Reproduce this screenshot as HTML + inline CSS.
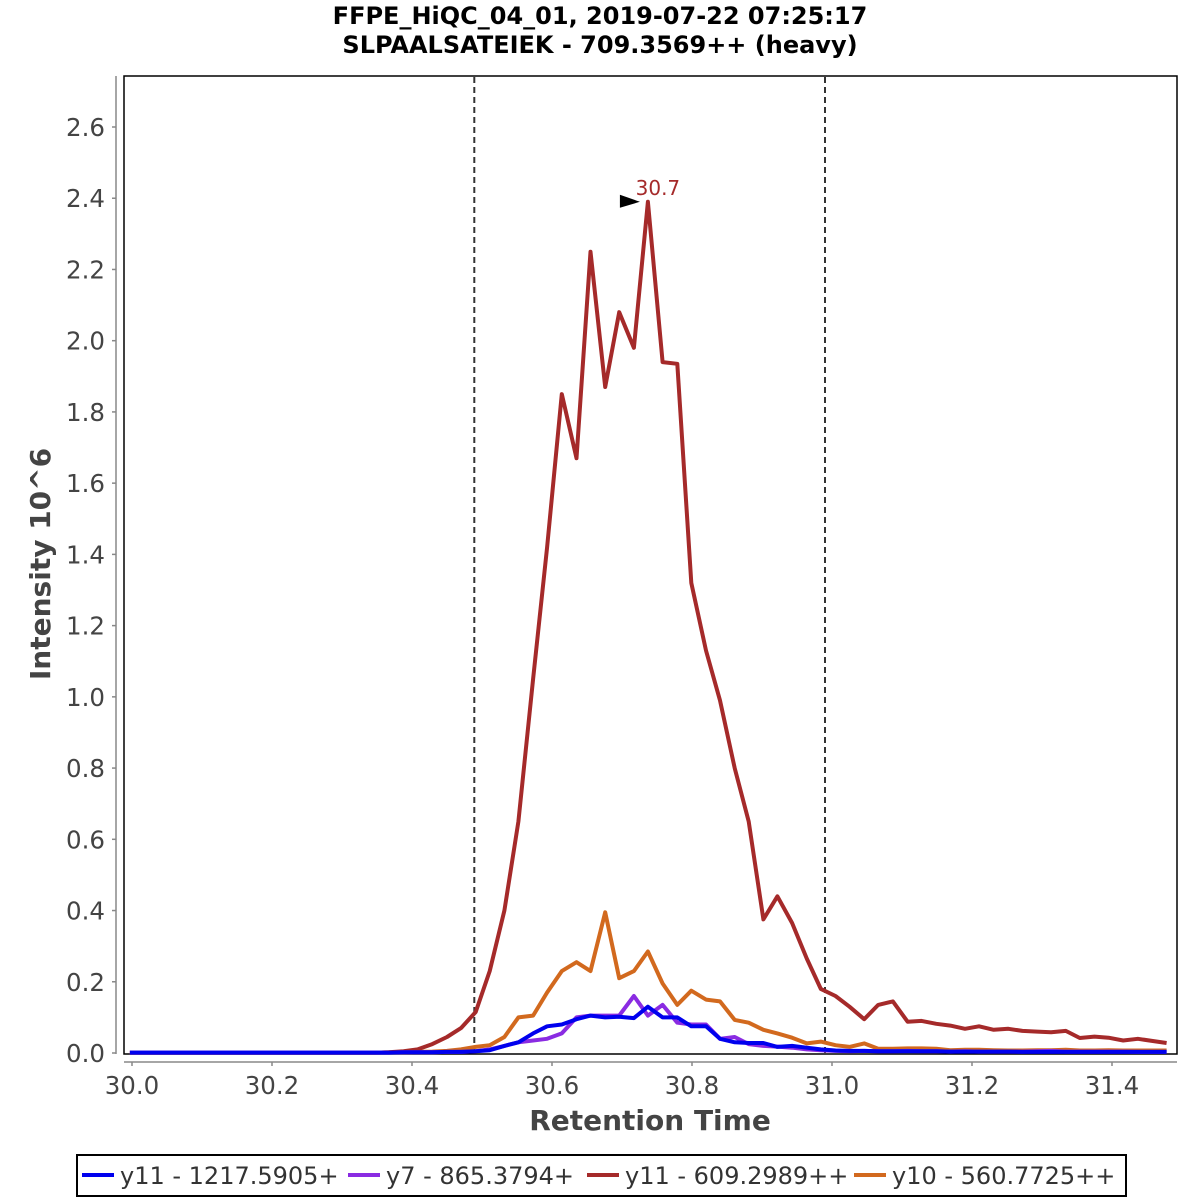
<!DOCTYPE html>
<html><head><meta charset="utf-8"><style>
html,body{margin:0;padding:0;background:#fff;}
svg{display:block;font-family:"Liberation Sans","DejaVu Sans",sans-serif;}
</style></head><body>
<svg id="chart" width="1200" height="1200" viewBox="0 0 1200 1200">
<text x="600" y="24" text-anchor="middle" font-size="24" font-weight="bold" font-family="DejaVu Sans, sans-serif">FFPE_HiQC_04_01, 2019-07-22 07:25:17</text>
<text x="600" y="53" text-anchor="middle" font-size="24" font-weight="bold" font-family="DejaVu Sans, sans-serif">SLPAALSATEIEK - 709.3569++ (heavy)</text>
<g id="plot"></g>
</svg>
<script>
const times = [29.997,30.018,30.038,30.059,30.079,30.1,30.12,30.141,30.162,30.182,30.203,30.223,30.244,30.264,30.285,30.306,30.326,30.347,30.367,30.388,30.408,30.429,30.45,30.47,30.491,30.511,30.532,30.552,30.573,30.593,30.614,30.635,30.655,30.676,30.696,30.717,30.737,30.758,30.779,30.799,30.82,30.84,30.861,30.881,30.902,30.922,30.943,30.964,30.984,31.005,31.025,31.046,31.066,31.087,31.108,31.128,31.149,31.169,31.19,31.21,31.231,31.252,31.272,31.293,31.313,31.334,31.354,31.375,31.395,31.416,31.437,31.457,31.478];
const seriesNames = ["y11 - 1217.5905+","y7 - 865.3794+","y11 - 609.2989++","y10 - 560.7725++"];
const seriesColors = ["#0000ee","#8a2be2","#a52a2a","#d2691e"];
const blueVals = [0.001,0.001,0.001,0.001,0.001,0.001,0.001,0.001,0.001,0.001,0.001,0.001,0.001,0.001,0.001,0.001,0.001,0.001,0.001,0.002,0.002,0.002,0.003,0.003,0.005,0.008,0.02,0.03,0.055,0.075,0.08,0.095,0.105,0.1,0.102,0.098,0.13,0.1,0.1,0.075,0.075,0.04,0.03,0.028,0.028,0.017,0.02,0.015,0.01,0.007,0.006,0.006,0.005,0.005,0.005,0.005,0.005,0.004,0.004,0.004,0.004,0.004,0.003,0.003,0.003,0.003,0.003,0.003,0.003,0.003,0.003,0.003,0.003];
const purpleVals = [0.001,0.001,0.001,0.001,0.001,0.001,0.001,0.001,0.001,0.001,0.001,0.001,0.001,0.001,0.001,0.001,0.001,0.001,0.001,0.002,0.002,0.002,0.003,0.003,0.005,0.01,0.02,0.03,0.035,0.04,0.055,0.1,0.105,0.105,0.105,0.16,0.105,0.135,0.085,0.08,0.08,0.04,0.045,0.025,0.02,0.018,0.015,0.01,0.008,0.006,0.005,0.006,0.005,0.005,0.006,0.005,0.005,0.004,0.005,0.004,0.004,0.004,0.004,0.005,0.006,0.004,0.004,0.004,0.004,0.004,0.003,0.003,0.003];
const redVals = [0.001,0.001,0.001,0.001,0.001,0.001,0.001,0.001,0.001,0.001,0.001,0.001,0.001,0.001,0.001,0.001,0.001,0.001,0.002,0.005,0.01,0.025,0.045,0.07,0.115,0.23,0.4,0.65,1.05,1.42,1.85,1.67,2.25,1.87,2.08,1.98,2.39,1.94,1.935,1.32,1.13,0.99,0.8,0.65,0.375,0.44,0.365,0.265,0.18,0.16,0.13,0.095,0.135,0.145,0.088,0.09,0.082,0.077,0.068,0.075,0.065,0.068,0.062,0.06,0.058,0.062,0.042,0.046,0.043,0.035,0.04,0.034,0.028];
const orangeVals = [0.001,0.001,0.001,0.001,0.001,0.001,0.001,0.001,0.001,0.001,0.001,0.001,0.001,0.001,0.001,0.001,0.001,0.001,0.002,0.002,0.003,0.004,0.006,0.01,0.017,0.022,0.045,0.1,0.105,0.17,0.23,0.255,0.23,0.395,0.21,0.23,0.285,0.195,0.135,0.175,0.15,0.145,0.093,0.085,0.065,0.055,0.043,0.027,0.032,0.022,0.017,0.027,0.012,0.012,0.013,0.013,0.012,0.008,0.009,0.009,0.008,0.007,0.007,0.008,0.008,0.009,0.007,0.007,0.008,0.007,0.007,0.007,0.007];
const yTicks = [0.0,0.2,0.4,0.6,0.8,1.0,1.2,1.4,1.6,1.8,2.0,2.2,2.4,2.6];
const xTicks = [30.0,30.2,30.4,30.6,30.8,31.0,31.2,31.4];
const boundaries = [30.489,30.99];
const peakTime = 30.737, peakVal = 2.39, peakLabel = "30.7";

const NS = "http://www.w3.org/2000/svg";
const g = document.getElementById('plot');
const X = t => 132 + (t - 30.0) * 700;
const Y = v => 1053 - v * (926 / 2.6);
function mk(tag, attrs, parent){ const e=document.createElementNS(NS,tag); for(const k in attrs) e.setAttribute(k,attrs[k]); (parent||g).appendChild(e); return e; }

const frame = mk('rect',{x:124,y:76,width:1053,height:978,fill:'#fff',stroke:'#000','stroke-width':1.5});


const ya = mk('line',{x1:116,y1:76,x2:116,y2:1054,stroke:'#888','stroke-width':1.5});


yTicks.forEach(v=>{
  mk('line',{x1:112,y1:Y(v),x2:116,y2:Y(v),stroke:'#888','stroke-width':1.5});
  const t = mk('text',{x:105,y:Y(v)+9,'text-anchor':'end','font-size':24.5,fill:'#444','font-family':'DejaVu Sans, sans-serif'});
  t.textContent = v.toFixed(1);
  
  
});
const xa = mk('line',{x1:124,y1:1062,x2:1177,y2:1062,stroke:'#888','stroke-width':1.5});


xTicks.forEach(v=>{
  mk('line',{x1:X(v),y1:1062,x2:X(v),y2:1066,stroke:'#888','stroke-width':1.5});
  const t = mk('text',{x:X(v),y:1094,'text-anchor':'middle','font-size':24.5,fill:'#444','font-family':'DejaVu Sans, sans-serif'});
  t.textContent = v.toFixed(1);
  
  
});
const xt = mk('text',{x:650,y:1130,'text-anchor':'middle','font-size':28,'font-weight':'bold',fill:'#444','font-family':'DejaVu Sans, sans-serif'});
xt.textContent='Retention Time';


const yt = mk('text',{x:0,y:0,'text-anchor':'middle','font-size':28,'font-weight':'bold',fill:'#444','font-family':'DejaVu Sans, sans-serif',transform:'translate(50,564) rotate(-90)'});
yt.textContent='Intensity 10^6';


boundaries.forEach(b=>{
  const l = mk('line',{x1:X(b),y1:77,x2:X(b),y2:1053,stroke:'#333','stroke-width':2,'stroke-dasharray':'6,4'});
  
  
});
const allVals = [blueVals,purpleVals,redVals,orangeVals];
const order = [3,2,1,0];
order.forEach(i=>{
  const pts = times.map((t,k)=>X(t).toFixed(1)+','+Y(allVals[i][k]).toFixed(1)).join(' ');
  const p = mk('polyline',{points:pts,fill:'none',stroke:seriesColors[i],'stroke-width':4,'stroke-linejoin':'round'});
  
  
});
const px = X(peakTime), py = Y(peakVal);
const arr = mk('polygon',{points:`${px-28},${py-7} ${px-28},${py+6} ${px-8},${py}`,fill:'#000'});


const pl = mk('text',{x:px+10,y:py-7,'text-anchor':'middle','font-size':20,fill:'#a52a2a','font-family':'DejaVu Sans, sans-serif'});
pl.textContent = peakLabel;


const lg = mk('g',{});


mk('rect',{x:77,y:1155,width:1049,height:41,fill:'#fff',stroke:'#000','stroke-width':2},lg);
const legX = [82,348,587,854];
seriesNames.forEach((n,i)=>{
  const e = mk('g',{},lg);
  
  
  mk('line',{x1:legX[i],y1:1175,x2:legX[i]+32,y2:1175,stroke:seriesColors[i],'stroke-width':4},e);
  const t = mk('text',{x:legX[i]+38,y:1184,'font-size':24,fill:'#333','font-family':'DejaVu Sans, sans-serif'},e);
  t.textContent = n;
});
</script>
</body></html>
